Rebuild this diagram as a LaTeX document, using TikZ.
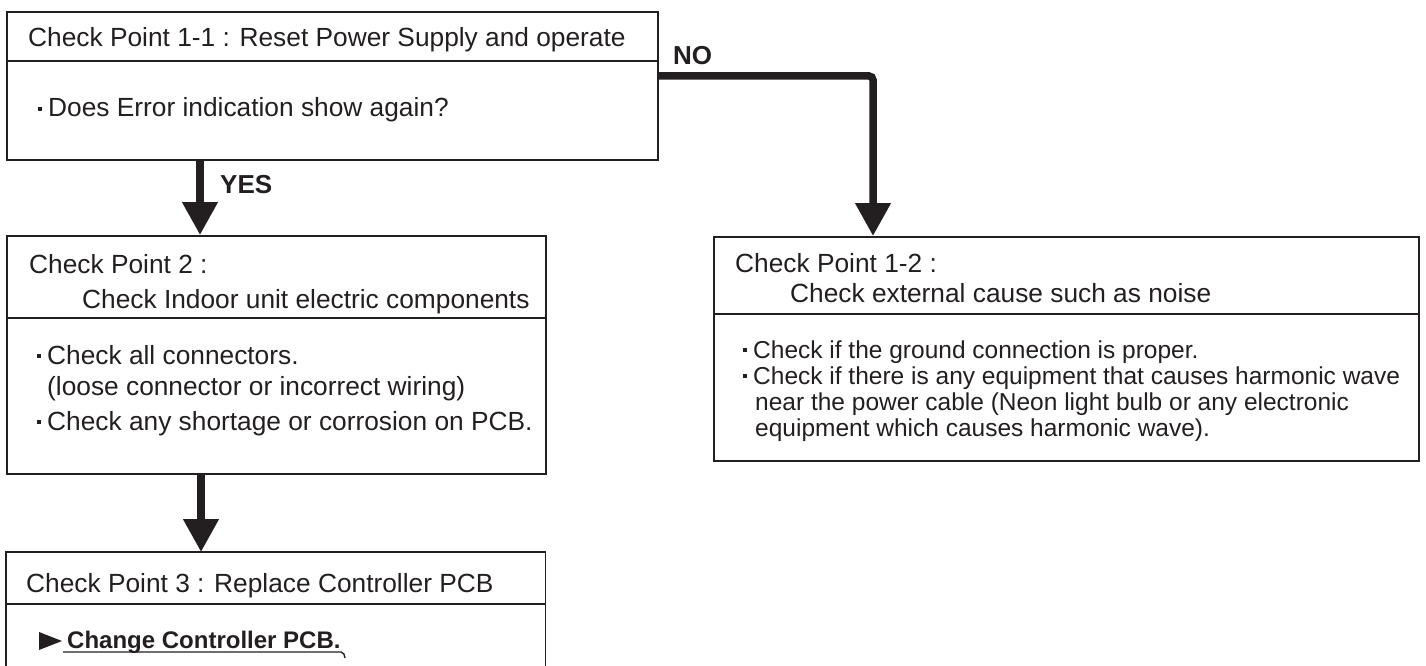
\documentclass[tikz,border=0pt]{standalone}
\usepackage{fontspec}
\setmainfont{Liberation Sans}
\usetikzlibrary{arrows.meta,calc}
\definecolor{ink}{HTML}{231F20}
\newcommand\sqb{\raisebox{6pt}{\rule{4pt}{4pt}}\hspace{6pt}}
\tikzset{
  box/.style={draw=ink, line width=1.6pt, inner sep=0pt, anchor=north west},
  ghost/.style={inner sep=0pt, anchor=north west},
  divider/.style={draw=ink, line width=1.6pt},
  conn/.style={draw=ink, line width=7.5pt, -{Triangle[width=34pt,length=33pt]}},
  txt/.style={anchor=base west, inner sep=0pt, text=ink, font=\fontsize{26.3}{30}\selectfont},
  smalltxt/.style={anchor=base west, inner sep=0pt, text=ink, font=\fontsize{24.5}{28}\selectfont},
  lbl/.style={anchor=base west, inner sep=0pt, text=ink, font=\fontsize{26}{30}\selectfont\bfseries},
  boldtxt/.style={anchor=base west, inner sep=0pt, text=ink, font=\fontsize{24}{28}\selectfont\bfseries},
}
\begin{document}
\begin{tikzpicture}[x=1pt,y=-1pt]
\useasboundingbox (0,0) rectangle (1426,666);

% boxes
\node[box, minimum width=651pt, minimum height=148pt] (b1) at (6,11) {};
\node[box, minimum width=539pt, minimum height=238pt] (b2) at (6,235) {};
\node[ghost, minimum width=539pt, minimum height=130pt] (b3) at (6,552) {};
\draw[divider] (b3.south west) -- (b3.north west) -- (b3.north east) -- (b3.south east);
\node[box, minimum width=705pt, minimum height=224pt] (b12) at (713,236) {};

% dividers
\draw[divider] (b1.west |- 0,61) -- (b1.east |- 0,61);
\draw[divider] (b2.west |- 0,318) -- (b2.east |- 0,318);
\draw[divider] (b3.west |- 0,604) -- (b3.east |- 0,604);
\draw[divider] (b12.west |- 0,314) -- (b12.east |- 0,314);

% box 1 text
\node[txt] (t1) at (28,47) {Check Point 1-1 : Reset Power Supply and operate};
\node[txt] (t1a) at (38,117) {\sqb Does Error indication show again?};

% box 2 text
\node[txt] (t2) at (29,273) {Check Point 2 :};
\node[txt] (t2b) at (82,308) {Check Indoor unit electric components};
\node[txt] (t2c) at (37,364) {\sqb Check all connectors.};
\node[txt] (t2d) at (47,395) {(loose connector or incorrect wiring)};
\node[txt] (t2e) at (37,430) {\sqb Check any shortage or corrosion on PCB.};

% box 3 text
\node[txt] (t3) at (26,592) {Check Point 3 : Replace Controller PCB};
\fill[ink] (39,632) -- (62,641) -- (39,650) -- cycle;
\node[boldtxt] (t3a) at (67,648) {Change Controller PCB.};
\draw[ink, line width=1.4pt] (63,652) -- (341,652) to[out=0,in=100] (345,658);

% box 1-2 text
\node[txt] (t4) at (735,272) {Check Point 1-2 :};
\node[txt] (t4b) at (790,302) {Check external cause such as noise};
\node[smalltxt] (t4c) at (743,358) {\sqb Check if the ground connection is proper.};
\node[smalltxt] (t4d) at (743,384) {\sqb Check if there is any equipment that causes harmonic wave};
\node[smalltxt] (t4e) at (755,410) {near the power cable (Neon light bulb or any electronic};
\node[smalltxt] (t4f) at (755,436) {equipment which causes harmonic wave).};

% connectors
\draw[conn] ([xshift=194pt]b1.south west) -- ([xshift=194pt]b2.north west);
\draw[conn] ([xshift=195pt]b2.south west) -- ([xshift=195pt]b3.north west);
\draw[conn, rounded corners=4pt] ([yshift=-65pt]b1.north east) -| ([xshift=160pt]b12.north west);

% labels
\node[lbl] (yes) at (220,193) {YES};
\node[lbl] (no) at (673,65) {NO};
\end{tikzpicture}
\end{document}
